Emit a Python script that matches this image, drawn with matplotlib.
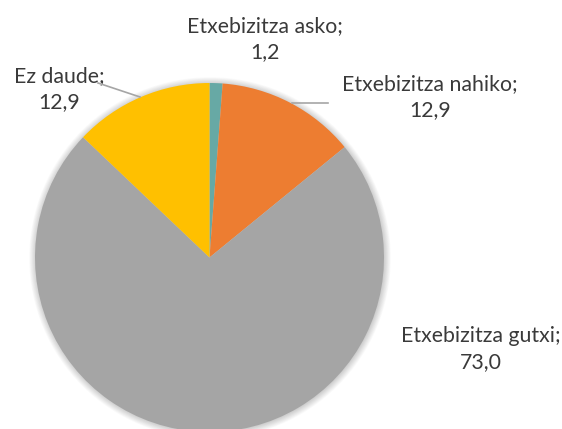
import matplotlib
matplotlib.use("Agg")
import matplotlib.pyplot as plt
from matplotlib.patches import Circle

categories = ["Etxebizitza asko", "Etxebizitza nahiko", "Etxebizitza gutxi", "Ez daude"]
values = [1.2, 12.9, 73.0, 12.9]
colors = ["#67A9A5", "#ED7D31", "#A5A5A5", "#FFC000"]

W, H = 562, 429
fig = plt.figure(figsize=(W / 100, H / 100), dpi=100)
ax = fig.add_axes([0, 0, 1, 1])

cx, cy, r = 209.5, H - 257.5, 174.5

# soft shadow
for i in range(10):
    ax.add_patch(Circle((cx + 0.5, cy - 0.5), r + 0.7 * i, color="black", alpha=0.018, lw=0, zorder=0))

ax.pie(values, colors=colors, startangle=90, counterclock=False,
       center=(cx, cy), radius=r, wedgeprops=dict(linewidth=0), frame=False)

ax.set_xlim(0, W)
ax.set_ylim(0, H)
ax.set_aspect("equal")
ax.axis("off")

def fmt(v):
    return f"{v:.1f}".replace(".", ",")

label_pos = [(265, 39), (430, 97), (481, 349), (59, 89)]
font = dict(family="Lato", fontsize=15.3, color="#3A3A3A", ha="center", va="center", linespacing=1.4)
for cat, v, (x, y) in zip(categories, values, label_pos):
    ax.text(x, H - y, f"{cat};\n{fmt(v)}", **font)

# leader lines
ax.plot([98, 140], [H - 83, H - 97], color="#A6A6A6", lw=1.2, zorder=5)
ax.plot([292, 328], [H - 103, H - 103], color="#A6A6A6", lw=1.2, zorder=5)

fig.savefig("out.png", dpi=100)
